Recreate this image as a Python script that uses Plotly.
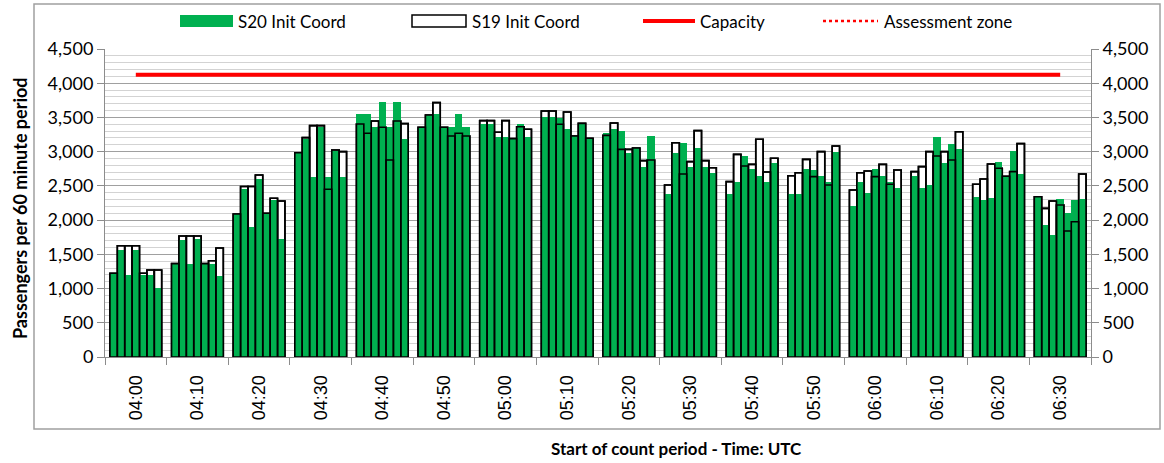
import plotly.graph_objects as go

# ---------------- data ----------------
times = ["04:00", "04:10", "04:20", "04:30", "04:40", "04:50", "05:00", "05:10",
         "05:20", "05:30", "05:40", "05:50", "06:00", "06:10", "06:20", "06:30"]

# 7 bars per time group
s20 = [
    [1220, 1565, 1200, 1565, 1205, 1200, 1015],
    [1364, 1715, 1364, 1720, 1364, 1364, 1185],
    [2090, 2450, 1900, 2600, 2090, 2290, 1725],
    [2985, 3180, 2635, 3365, 2635, 3010, 2635],
    [3546, 3546, 3365, 3721, 3356, 3721, 3181],
    [3356, 3536, 3546, 3356, 3365, 3546, 3365],
    [3400, 3400, 3219, 3219, 3190, 3400, 3219],
    [3511, 3511, 3487, 3327, 3229, 3414, 3195],
    [3278, 3327, 3307, 2976, 3053, 2781, 3234],
    [2382, 2976, 3122, 2781, 3049, 2781, 2693],
    [2382, 2562, 2937, 2742, 2645, 2562, 2830],
    [2382, 2382, 2752, 2732, 2645, 2562, 3000],
    [2206, 2562, 2392, 2742, 2645, 2562, 2474],
    [2645, 2464, 2513, 3210, 2830, 3107, 3034],
    [2333, 2294, 2328, 2849, 2640, 3010, 2674],
    [2342, 1929, 1783, 2309, 2109, 2294, 2309],
]
s19 = [
    [1223, 1626, 1626, 1626, 1223, 1271, 1271],
    [1364, 1768, 1768, 1768, 1364, 1407, 1593],
    [2090, 2490, 2490, 2660, 2100, 2320, 2280],
    [2985, 3205, 3380, 3380, 2450, 3025, 3000],
    [3404, 3268, 3448, 3356, 2878, 3448, 3409],
    [3356, 3536, 3716, 3356, 3229, 3268, 3229],
    [3453, 3453, 3283, 3453, 3190, 3365, 3327],
    [3594, 3594, 3400, 3580, 3229, 3414, 3195],
    [3238, 3419, 3034, 3034, 3053, 2869, 2878],
    [2513, 3131, 2674, 2854, 3307, 2869, 2766],
    [2562, 2961, 2791, 2815, 3181, 2703, 2903],
    [2649, 2693, 2888, 2635, 3000, 2513, 3083],
    [2440, 2693, 2718, 2635, 2815, 2523, 2732],
    [2708, 2781, 3000, 2937, 3000, 2878, 3292],
    [2523, 2601, 2820, 2757, 2640, 2708, 3117],
    [2342, 2172, 2279, 2221, 1841, 1977, 2674],
]
capacity = [4125] * len(times)

y_ticks = [0, 500, 1000, 1500, 2000, 2500, 3000, 3500, 4000, 4500]

# ---------------- layout constants ----------------
W, H = 1164, 463
L, R, T, B = 105, 73, 49, 106
PW, PH = W - L - R, H - T - B
BAR_W = 0.12

def px(xp):
    return (xp - L) / PW

def py(yp):
    return (H - B - yp) / PH

xs, y20, y19 = [], [], []
for g in range(len(times)):
    for i in range(7):
        xs.append(g + 0.5 + (i - 3) * BAR_W)
        y20.append(s20[g][i])
        y19.append(s19[g][i])

GREEN = "#00B050"

fig = go.Figure()
# S19 white body (behind)
fig.add_trace(go.Bar(x=xs, y=y19, width=BAR_W, name="S19 Init Coord",
                     marker=dict(color="white", line=dict(color="black", width=1.6)),
                     showlegend=False))
# S20 green
fig.add_trace(go.Bar(x=xs, y=y20, width=BAR_W, name="S20 Init Coord",
                     marker=dict(color=GREEN, line=dict(width=0)),
                     showlegend=False))
# S19 outline on top
fig.add_trace(go.Bar(x=xs, y=y19, width=BAR_W, name="S19 Init Coord",
                     marker=dict(color="rgba(0,0,0,0)", line=dict(color="black", width=1.6)),
                     showlegend=False, yaxis="y2"))
# Capacity
fig.add_trace(go.Scatter(x=[g + 0.5 for g in range(len(times))], y=capacity,
                         mode="lines", name="Capacity",
                         line=dict(color="#FF0000", width=4), showlegend=False,
                         yaxis="y2"))

GRID_MAJ = "#a0a0a0"
GRID_MIN = "#d3d3d3"
AXC = "#8c8c8c"
tick_font = dict(family="Lato", size=18, color="black")

yax = dict(range=[0, 4500], tickvals=y_ticks, ticktext=[f"{v:,}" for v in y_ticks],
           showgrid=True, gridcolor=GRID_MAJ, gridwidth=1,
           minor=dict(dtick=100, tick0=0, showgrid=True, gridcolor=GRID_MIN, gridwidth=1),
           ticks="outside", ticklen=7, tickcolor=AXC, tickwidth=1,
           showline=True, linecolor=AXC, linewidth=1, automargin=False,
           tickfont=tick_font, zeroline=False, fixedrange=True)

fig.update_layout(
    width=W, height=H,
    margin=dict(l=L, r=R, t=T, b=B, pad=0, autoexpand=False),
    paper_bgcolor="white", plot_bgcolor="white",
    barmode="overlay", bargap=0,
    showlegend=False,
    xaxis=dict(range=[0, len(times)], tickvals=[g + 0.5 for g in range(len(times))],
               ticktext=times, tickangle=-90, ticks="",
               tickfont=dict(family="Liberation Sans", size=18, color="black"),
               ticklabelstandoff=10, automargin=False,
               minor=dict(tick0=0, dtick=1, ticks="outside", ticklen=7, tickcolor=AXC,
                          showgrid=False),
               showline=True, linecolor=AXC, linewidth=1, showgrid=False, zeroline=False),
    yaxis=yax,
    yaxis2=dict(overlaying="y", side="right", range=[0, 4500], tickvals=y_ticks,
                ticktext=[f"{v:,}" for v in y_ticks], showgrid=False, automargin=False,
                ticks="outside", ticklen=7, tickcolor=AXC, showline=True,
                linecolor=AXC, linewidth=1, tickfont=tick_font, zeroline=False),
)

shapes = []
# outer chart border
shapes.append(dict(type="rect", xref="paper", yref="paper",
                   x0=px(34), x1=px(1160), y0=py(429), y1=py(4),
                   line=dict(color="#a0a0a0", width=1.5), fillcolor="rgba(0,0,0,0)",
                   layer="below"))
# custom legend swatches
ly = 21
shapes.append(dict(type="rect", xref="paper", yref="paper",
                   x0=px(180), x1=px(233), y0=py(ly + 6), y1=py(ly - 6),
                   fillcolor=GREEN, line=dict(width=0)))
shapes.append(dict(type="rect", xref="paper", yref="paper",
                   x0=px(412), x1=px(466), y0=py(ly + 6), y1=py(ly - 6),
                   fillcolor="white", line=dict(color="black", width=1.5)))
shapes.append(dict(type="line", xref="paper", yref="paper",
                   x0=px(643), x1=px(695), y0=py(ly), y1=py(ly),
                   line=dict(color="#FF0000", width=4)))
shapes.append(dict(type="line", xref="paper", yref="paper",
                   x0=px(823), x1=px(878), y0=py(ly), y1=py(ly),
                   line=dict(color="#FF0000", width=2.5, dash="dot")))
fig.update_layout(shapes=shapes)

leg_font = dict(family="Lato", size=17, color="black")
annotations = []
for xpix, txt in [(236, "S20 Init Coord"), (470, "S19 Init Coord"),
                  (698, "Capacity"), (882, "Assessment zone")]:
    annotations.append(dict(xref="paper", yref="paper", x=px(xpix), y=py(ly),
                            text=txt, showarrow=False, xanchor="left", yanchor="middle",
                            font=leg_font))
annotations.append(dict(xref="paper", yref="paper", x=px(20), y=py(208),
                        text="<b>Passengers per 60 minute period</b>", textangle=-90,
                        showarrow=False, xanchor="center", yanchor="middle",
                        font=dict(family="Lato", size=18, color="black")))
annotations.append(dict(xref="paper", yref="paper", x=px(676), y=py(448),
                        text="<b>Start of count period - Time: UTC</b>",
                        showarrow=False, xanchor="center", yanchor="middle",
                        font=dict(family="Lato", size=17, color="black")))
fig.update_layout(annotations=annotations)

fig.write_html("out.html", config={"displayModeBar": False, "staticPlot": True},
               post_script="document.body.style.margin='0';document.body.style.overflow='hidden';")
